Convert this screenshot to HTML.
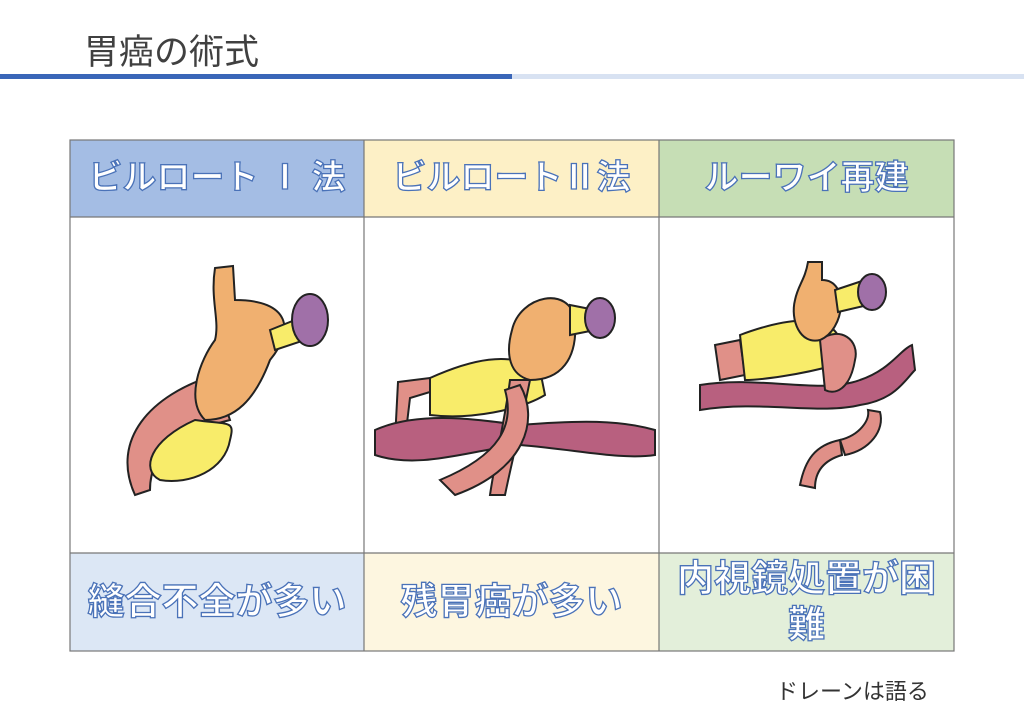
<!DOCTYPE html>
<html><head><meta charset="utf-8"><style>
body{margin:0;width:1024px;height:708px;background:#fff;position:relative;overflow:hidden;font-family:"Liberation Sans","Noto Sans CJK JP",sans-serif}
.t{position:absolute;left:84px;top:24px;font-size:35px;color:#404040;font-weight:normal}
.l1{position:absolute;left:0;top:74px;width:512px;height:5px;background:#3a66b8}
.l2{position:absolute;left:512px;top:74px;width:512px;height:5px;background:#d8e2f2}
.c{position:absolute;box-sizing:border-box;display:flex;align-items:center;justify-content:center;text-align:center;color:#fff;font-weight:bold;-webkit-text-stroke:1.3px #4a72b8;line-height:1.25}
.h{font-size:34px}
.b{font-size:37px}
.f{position:absolute;left:776px;top:674px;font-size:22px;color:#333}
</style></head><body>
<div class="t">胃癌の術式</div><div class="l1"></div><div class="l2"></div>
<div class="c h" style="left:70px;top:140px;width:294px;height:77px;background:#a4bde4">ビルロート Ⅰ 法</div>
<div class="c h" style="left:364px;top:140px;width:295px;height:77px;background:#fdf0c6">ビルロートⅡ法</div>
<div class="c h" style="left:659px;top:140px;width:295px;height:77px;background:#c6deb5">ルーワイ再建</div>
<div class="c b" style="left:70px;top:553px;width:294px;height:98px;background:#dce7f5">縫合不全が多い</div>
<div class="c b" style="left:364px;top:553px;width:295px;height:98px;background:#fdf6e0">残胃癌が多い</div>
<div class="c b" style="left:659px;top:553px;width:295px;height:98px;background:#e3efda;padding:0 6px">内視鏡処置が困難</div>
<svg style="position:absolute;left:0;top:0" width="1024" height="708">
<g stroke="#777" stroke-width="1.2" fill="none">
<rect x="70" y="140" width="884" height="511"/>
<line x1="70" y1="217" x2="954" y2="217"/><line x1="70" y1="553" x2="954" y2="553"/>
<line x1="364" y1="140" x2="364" y2="651"/><line x1="659" y1="140" x2="659" y2="651"/>
</g>
<g stroke="#222" stroke-width="2">
<path d="M135 495 C110 440 150 395 215 375 L230 420 C190 430 150 445 150 490 Z" fill="#e09088"/>
<path d="M215 268 L233 266 L235 300 C290 300 295 330 270 360 C255 400 235 420 205 420 C185 400 200 360 215 340 C220 320 210 300 215 268Z" fill="#f0b070"/>
<path d="M195 420 C230 425 235 420 230 440 C225 470 190 485 160 480 C140 470 150 440 195 420Z" fill="#f8ec6a"/>
<path d="M270 330 L300 318 L305 340 L275 350Z" fill="#f8ec6a"/>
<ellipse cx="310" cy="320" rx="18" ry="26" fill="#a070a8"/>
<path d="M398 382 L430 378 L430 392 L410 398 L405 440 L395 440Z" fill="#e09088"/>
<path d="M430 378 C470 360 510 350 540 370 L545 395 C520 410 470 420 430 415Z" fill="#f8ec6a"/>
<path d="M375 430 C420 410 480 420 520 425 C580 420 620 420 655 430 L655 455 C620 460 580 450 520 445 C470 450 420 470 375 455Z" fill="#b8607f"/>
<path d="M510 380 L530 380 C520 430 510 470 505 495 L490 495 C495 460 505 420 510 380Z" fill="#e09088"/>
<path d="M520 385 C540 420 525 470 455 495 L440 480 C500 455 515 425 505 390Z" fill="#e09088"/>
<path d="M512 330 C520 295 570 285 575 320 C578 360 560 380 530 380 C510 375 505 355 512 330Z" fill="#f0b070"/>
<path d="M570 305 L595 310 L595 330 L570 335Z" fill="#f8ec6a"/>
<ellipse cx="600" cy="318" rx="15" ry="20" fill="#a070a8"/>
<path d="M700 385 C760 375 820 395 860 380 C890 370 900 350 912 345 L915 370 C905 380 895 400 860 405 C820 415 760 400 700 410Z" fill="#b8607f"/>
<path d="M715 345 L740 340 L745 375 L720 380Z" fill="#e09088"/>
<path d="M740 335 C780 320 830 310 840 340 L835 365 C800 375 760 380 745 380Z" fill="#f8ec6a"/>
<path d="M820 340 C840 325 860 340 855 360 C850 390 835 395 825 390Z" fill="#e09088"/>
<path d="M808 262 L822 262 L822 280 C850 280 845 330 820 340 C800 345 790 320 795 300 C798 285 805 280 808 262Z" fill="#f0b070"/>
<path d="M835 290 L865 280 L868 305 L838 312Z" fill="#f8ec6a"/>
<ellipse cx="872" cy="292" rx="14" ry="18" fill="#a070a8"/>
<path d="M800 485 C805 460 815 445 840 440 L842 455 C825 460 815 470 815 488Z" fill="#e09088"/>
<path d="M840 440 C860 435 870 420 868 410 L880 412 C885 430 870 450 845 455Z" fill="#e09088"/>
</g>
</svg>
<div class="f">ドレーンは語る</div>
</body></html>
